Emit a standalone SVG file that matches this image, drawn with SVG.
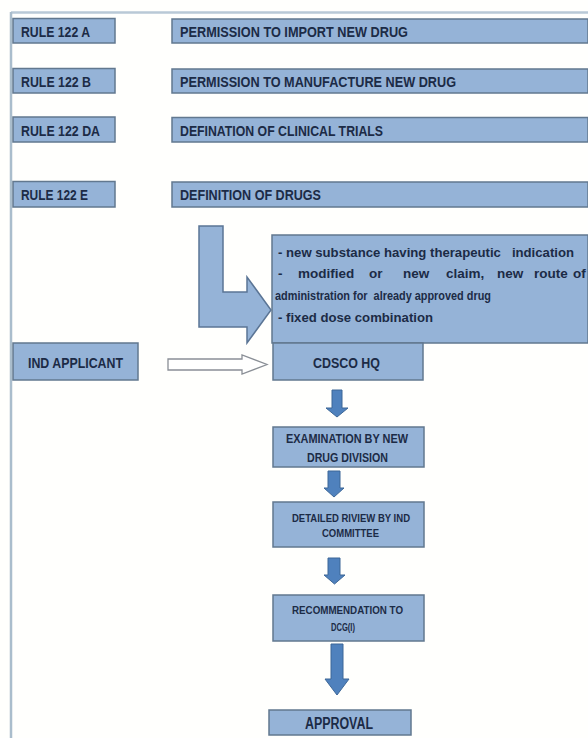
<svg xmlns="http://www.w3.org/2000/svg" width="588" height="738" viewBox="0 0 588 738">
<style>
.box{fill:#95b3d7;stroke:#62788f;stroke-width:1.5}
.t{font-family:"Liberation Sans",Arial,sans-serif;font-weight:bold;fill:#1c2b46}
.r{font-size:15px}
.f{font-size:13px}
.g{font-size:11.5px}
.s{font-size:13.5px}
.down{fill:#4f81bd;stroke:#3d6797;stroke-width:1}
</style>
<rect width="588" height="738" fill="#fffffd"/>
<g id="frame">
<line x1="11" y1="12.5" x2="588" y2="12.5" stroke="#b9c9d6" stroke-width="2.5"/>
<line x1="11" y1="12" x2="11" y2="738" stroke="#aabdcc" stroke-width="2.5"/>
</g>
<g id="rule-a">
<rect class="box" x="13" y="18.5" width="102" height="24.5"/>
<text class="t r" x="21" y="36.5" textLength="69" lengthAdjust="spacingAndGlyphs">RULE 122 A</text>
</g>
<g id="desc-a">
<rect class="box" x="172" y="19" width="416" height="24"/>
<text class="t r" x="180" y="36.5" textLength="228" lengthAdjust="spacingAndGlyphs">PERMISSION TO IMPORT NEW DRUG</text>
</g>
<g id="rule-b">
<rect class="box" x="13" y="68.5" width="102" height="24.5"/>
<text class="t r" x="21" y="86.5" textLength="70" lengthAdjust="spacingAndGlyphs">RULE 122 B</text>
</g>
<g id="desc-b">
<rect class="box" x="172" y="69" width="416" height="24"/>
<text class="t r" x="180" y="86.5" textLength="276" lengthAdjust="spacingAndGlyphs">PERMISSION TO MANUFACTURE NEW DRUG</text>
</g>
<g id="rule-da">
<rect class="box" x="13" y="117" width="102" height="25"/>
<text class="t r" x="21" y="135.5" textLength="79" lengthAdjust="spacingAndGlyphs">RULE 122 DA</text>
</g>
<g id="desc-da">
<rect class="box" x="172" y="117.5" width="416" height="24.5"/>
<text class="t r" x="180" y="135.5" textLength="203" lengthAdjust="spacingAndGlyphs">DEFINATION OF CLINICAL TRIALS</text>
</g>
<g id="rule-e">
<rect class="box" x="13" y="181.5" width="102" height="25.5"/>
<text class="t r" x="21" y="200" textLength="67" lengthAdjust="spacingAndGlyphs">RULE 122 E</text>
</g>
<g id="desc-e">
<rect class="box" x="172" y="182" width="416" height="25"/>
<text class="t r" x="180" y="200" textLength="141" lengthAdjust="spacingAndGlyphs">DEFINITION OF DRUGS</text>
</g>
<g id="connectors">
<polygon points="199,226 223,226 223,292 247,292 247,277 271,310 247,343 247,327 199,327" fill="#95b3d7" stroke="#5b7595" stroke-width="1.5"/>
<polygon points="168,359 242,359 242,355 267,364.5 242,374 242,370 168,370" fill="#ffffff" stroke="#8a8f96" stroke-width="1.3"/>
<polygon class="down" points="332,390 342,390 342,408 348,408 337,417 326,408 332,408"/>
<polygon class="down" points="328,471 340,471 340,488 344,488 334,497 324,488 328,488"/>
<polygon class="down" points="328,558 340,558 340,575 345,575 334.5,584 324,575 328,575"/>
<polygon class="down" points="331,644 343,644 343,679 349,679 337,695 325,679 331,679"/>
</g>
<g id="drug-criteria">
<rect class="box" x="272" y="235" width="316" height="108"/>
<text class="t s" xml:space="preserve" x="278" y="256.5" textLength="296" lengthAdjust="spacingAndGlyphs">- new substance having therapeutic   indication</text>
<text class="t s" y="278"><tspan x="278">-</tspan><tspan x="298">modified</tspan><tspan x="369">or</tspan><tspan x="403">new</tspan><tspan x="446">claim,</tspan><tspan x="497">new</tspan><tspan x="534">route</tspan><tspan x="573">of</tspan></text>
<text class="t s" xml:space="preserve" x="275" y="300" textLength="216" lengthAdjust="spacingAndGlyphs">administration for  already approved drug</text>
<text class="t s" x="278" y="321.5" textLength="155" lengthAdjust="spacingAndGlyphs">- fixed dose combination</text>
</g>
<g id="ind-applicant">
<rect class="box" x="13" y="343" width="125" height="37"/>
<text class="t r" x="28" y="367.5" textLength="95" lengthAdjust="spacingAndGlyphs">IND APPLICANT</text>
</g>
<g id="cdsco-hq">
<rect class="box" x="273" y="343" width="150" height="37"/>
<text class="t r" x="313" y="367.5" textLength="67" lengthAdjust="spacingAndGlyphs">CDSCO HQ</text>
</g>
<g id="examination">
<rect class="box" x="273" y="427" width="151" height="40"/>
<text class="t f" x="286" y="443" textLength="122" lengthAdjust="spacingAndGlyphs">EXAMINATION BY NEW</text>
<text class="t f" x="307" y="462" textLength="81" lengthAdjust="spacingAndGlyphs">DRUG DIVISION</text>
</g>
<g id="detailed-review">
<rect class="box" x="273" y="502" width="151" height="45"/>
<text class="t g" x="292" y="521.5" textLength="118" lengthAdjust="spacingAndGlyphs">DETAILED RIVIEW BY IND</text>
<text class="t g" x="322" y="537" textLength="57" lengthAdjust="spacingAndGlyphs">COMMITTEE</text>
</g>
<g id="recommendation">
<rect class="box" x="273" y="595" width="151" height="46"/>
<text class="t g" x="292" y="614" textLength="111" lengthAdjust="spacingAndGlyphs">RECOMMENDATION TO</text>
<text class="t g" x="331" y="631" textLength="24" lengthAdjust="spacingAndGlyphs">DCG(I)</text>
</g>
<g id="approval">
<rect class="box" x="269" y="710" width="142" height="25"/>
<text class="t" style="font-size:16px" x="305" y="728.5" textLength="68" lengthAdjust="spacingAndGlyphs">APPROVAL</text>
</g>
</svg>
